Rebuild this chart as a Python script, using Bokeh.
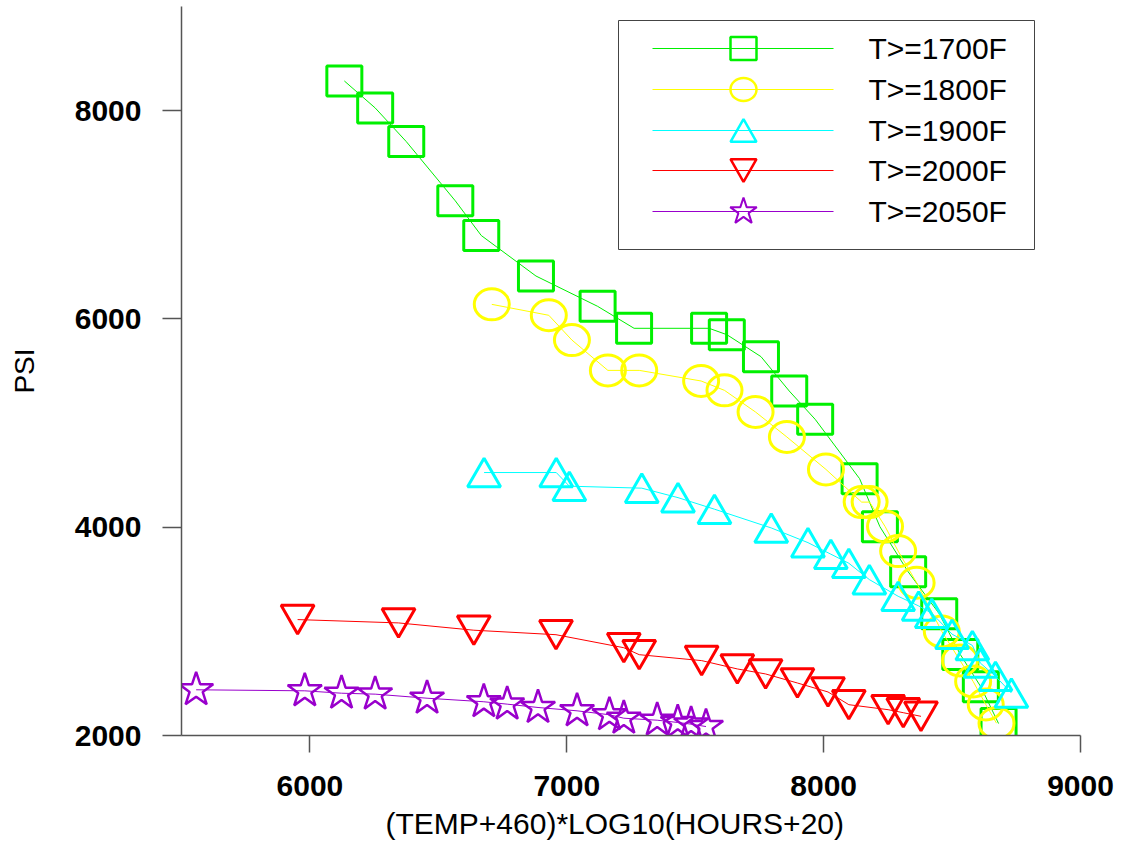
from bokeh.plotting import figure
from bokeh.models import Range1d, FixedTicker, Title, ColumnDataSource
from bokeh.core.properties import value
from bokeh.transform import dodge
from bokeh.embed import file_html
from bokeh.resources import INLINE

# ---------------- data ----------------
series_names = ["T>=1700F", "T>=1800F", "T>=1900F", "T>=2000F", "T>=2050F"]

green_x = [6134, 6254, 6375, 6566, 6667, 6880, 7120, 7262, 7554, 7623,
           7756, 7866, 7967, 8140, 8219, 8329, 8450, 8532, 8612, 8681]
green_y = [8285, 8026, 7703, 7134, 6801, 6412, 6121, 5910, 5910, 5849,
           5638, 5308, 5036, 4466, 4005, 3572, 3169, 2778, 2468, 2115]

yellow_x = [6708, 6930, 7020, 7160, 7282, 7523, 7614, 7735, 7857, 8009,
            8148, 8179, 8239, 8290, 8362, 8460, 8531, 8582, 8631, 8673]
yellow_y = [6140, 6035, 5797, 5506, 5506, 5404, 5314, 5106, 4866, 4555,
            4241, 4241, 4008, 3771, 3467, 2999, 2720, 2519, 2298, 2118]

cyan_x = [6678, 6959, 7010, 7292, 7433, 7575, 7796, 7939, 8028, 8098,
          8178, 8290, 8370, 8421, 8500, 8579, 8610, 8669, 8731]
cyan_y = [4525, 4525, 4394, 4375, 4284, 4173, 3993, 3852, 3741, 3654,
          3497, 3337, 3244, 3174, 2973, 2865, 2696, 2569, 2408]

red_x = [5952, 6345, 6638, 6958, 7222, 7282, 7525, 7664, 7774, 7898,
         8017, 8098, 8251, 8310, 8379]
red_y = [3113, 3081, 3011, 2968, 2843, 2776, 2719, 2639, 2591, 2504,
         2418, 2296, 2248, 2219, 2184]

purple_x = [5557, 5980, 6123, 6254, 6456, 6677, 6768, 6888, 7040, 7166,
            7222, 7352, 7432, 7484, 7542]
purple_y = [2439, 2429, 2406, 2397, 2358, 2324, 2301, 2269, 2237, 2199,
            2166, 2147, 2125, 2109, 2086]

x_ticks = [6000, 7000, 8000, 9000]
y_ticks = [2000, 4000, 6000, 8000]
x_title = "(TEMP+460)*LOG10(HOURS+20)"
y_title = "PSI"

# ---------------- style ----------------
FONT = "Liberation Sans"
GREEN, YELLOW, CYAN, RED, PURPLE = "#00f000", "#ffff00", "#00ffff", "#ff0000", "#9900cc"
AXIS = "#555555"

W, H = 1130, 852
F_LEFT, F_TOP, F_W, F_H = 181, 6, 899, 729
X0, X1, Y0, Y1 = 5500, 9000, 2000, 9000

p = figure(width=W, height=H, output_backend="svg", toolbar_location=None,
           x_range=Range1d(X0, X1), y_range=Range1d(Y0, Y1),
           min_border_left=F_LEFT, min_border_right=W - F_LEFT - F_W,
           min_border_top=F_TOP, min_border_bottom=H - F_TOP - F_H)
p.outline_line_color = None
p.xgrid.visible = False
p.ygrid.visible = False
p.background_fill_color = "white"
p.border_fill_color = "white"

p.xaxis.ticker = FixedTicker(ticks=x_ticks)
p.yaxis.ticker = FixedTicker(ticks=y_ticks)
for ax in (p.xaxis[0], p.yaxis[0]):
    ax.axis_line_color = AXIS
    ax.axis_line_width = 1.5
    ax.major_tick_line_color = AXIS
    ax.major_tick_line_width = 1.5
    ax.major_tick_in = 0
    ax.minor_tick_line_color = None
    ax.major_label_text_font = FONT
    ax.major_label_text_font_style = "bold"
    ax.major_label_text_font_size = "30px"
    ax.major_label_text_color = "black"
p.xaxis.major_tick_out = 17
p.yaxis.major_tick_out = 19
p.xaxis.major_label_standoff = 23
p.yaxis.major_label_standoff = 21

p.yaxis.axis_label = y_title
p.yaxis.axis_label_text_font = FONT
p.yaxis.axis_label_text_font_style = "normal"
p.yaxis.axis_label_text_font_size = "28px"
p.yaxis.axis_label_text_color = "black"
p.yaxis.axis_label_standoff = 32

p.add_layout(Title(text=x_title, align="left", offset=204, standoff=17,
                   vertical_align="top",
                   text_font=FONT, text_font_style="normal", text_font_size="30px",
                   text_color="black"), "below")

# pixel-space ranges for the legend (relative to the plot frame)
p.extra_x_ranges = {"px": Range1d(0, F_W)}
p.extra_y_ranges = {"px": Range1d(F_H, 0)}

# triangles are anchored at their centroid in Bokeh; the reference centres
# the triangle's box on the point, so shift the marker by h/6
TRI = 33
tri_shift = (TRI * 0.866 / 6) * (Y1 - Y0) / F_H

# ---------------- series ----------------
p.line(green_x, green_y, line_color=GREEN, line_width=1)
p.rect(green_x, green_y, width=35, height=30, width_units="screen", height_units="screen",
       fill_color=None, line_color=GREEN, line_width=3)

p.line(yellow_x, yellow_y, line_color=YELLOW, line_width=1)
p.ellipse(yellow_x, yellow_y, width=35, height=31, width_units="screen", height_units="screen",
          fill_color=None, line_color=YELLOW, line_width=3)

cyan_src = ColumnDataSource(dict(x=cyan_x, y=cyan_y))
p.line("x", "y", source=cyan_src, line_color=CYAN, line_width=1)
p.scatter("x", dodge("y", -tri_shift), source=cyan_src, marker="triangle", size=TRI,
          fill_color=None, line_color=CYAN, line_width=3)

red_src = ColumnDataSource(dict(x=red_x, y=red_y))
p.line("x", "y", source=red_src, line_color=RED, line_width=1)
p.scatter("x", dodge("y", tri_shift), source=red_src, marker="inverted_triangle", size=TRI,
          fill_color=None, line_color=RED, line_width=3)

p.line(purple_x, purple_y, line_color=PURPLE, line_width=1)
p.scatter(purple_x, purple_y, marker="star", size=36, fill_color=None,
          line_color=PURPLE, line_width=2.5)

# ---------------- legend (drawn in frame pixel space) ----------------
LEG_L, LEG_R, LEG_T, LEG_B = 437, 853, 14, 243
rows = [42, 83, 124, 164, 205]
line_x0, line_x1, mark_x, text_x = 471, 652, 562, 687
colors = [GREEN, YELLOW, CYAN, RED, PURPLE]
kw = dict(x_range_name="px", y_range_name="px")
LTRI = 26
lshift = LTRI * 0.866 / 6

p.quad(left=[LEG_L], right=[LEG_R], top=[LEG_T], bottom=[LEG_B], fill_color="white",
       line_color="#444444", line_width=1, **kw)
for yy, c in zip(rows, colors):
    p.line([line_x0, line_x1], [yy, yy], line_color=c, line_width=1, **kw)
p.rect([mark_x], [rows[0]], width=26, height=23, width_units="screen", height_units="screen",
       fill_color=None, line_color=GREEN, line_width=2.5, **kw)
p.ellipse([mark_x], [rows[1]], width=26, height=23, width_units="screen", height_units="screen",
          fill_color=None, line_color=YELLOW, line_width=2.5, **kw)
p.scatter([mark_x], [rows[2] + lshift], marker="triangle", size=LTRI, fill_color=None,
          line_color=CYAN, line_width=2.5, **kw)
p.scatter([mark_x], [rows[3] - lshift], marker="inverted_triangle", size=LTRI, fill_color=None,
          line_color=RED, line_width=2.5, **kw)
p.scatter([mark_x], [rows[4]], marker="star", size=28, fill_color=None,
          line_color=PURPLE, line_width=2, **kw)
p.text([text_x] * 5, rows, text=series_names, text_font=value(FONT), text_font_size="30px",
       text_baseline="middle", text_align="left", text_color="black", **kw)

open("out.html", "w").write(file_html(p, INLINE))
